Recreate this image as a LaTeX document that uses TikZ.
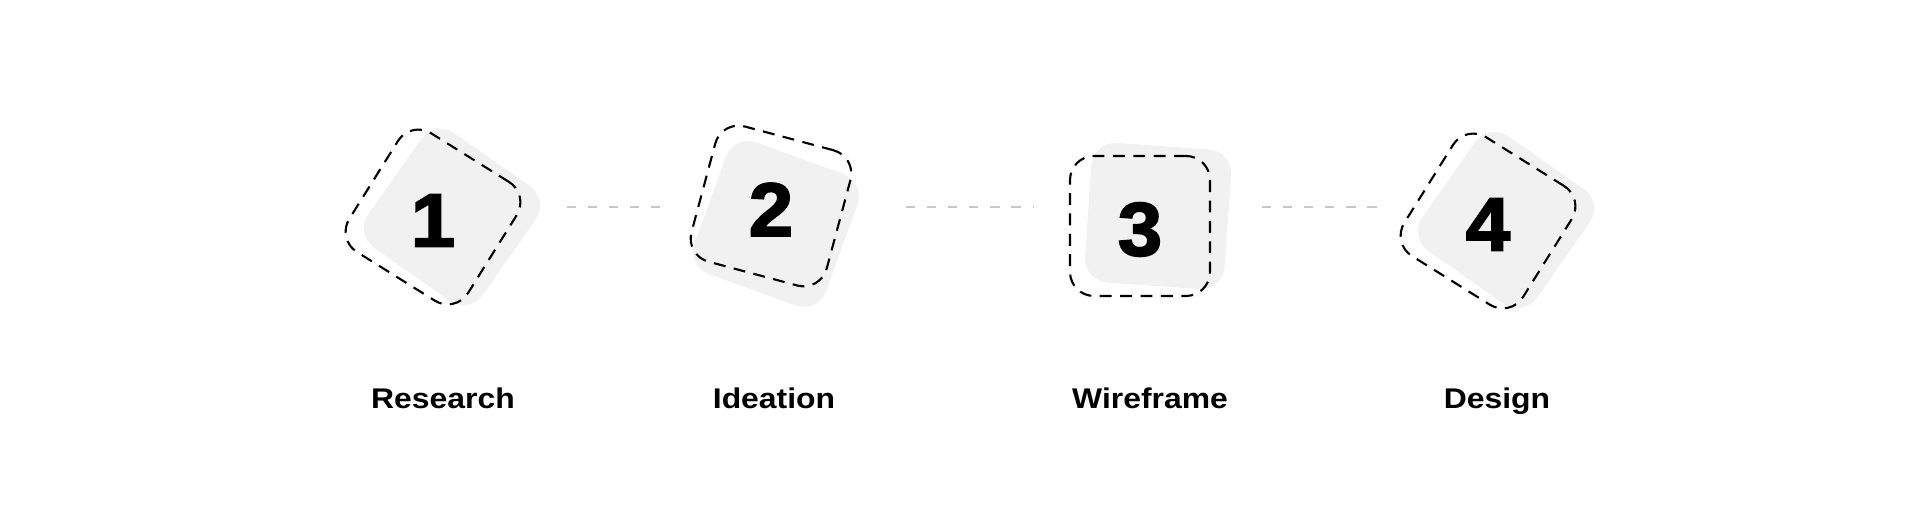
\documentclass[tikz,border=0pt]{standalone}
\usepackage{fontspec}
\setmainfont{Liberation Sans}
\newfontfamily\labelfont[FakeStretch=1.12]{Liberation Sans}
\newfontfamily\numfont[FakeBold=2.6,FakeStretch=1.05]{Liberation Sans}
\usepackage{tikz}
\usetikzlibrary{positioning}
\definecolor{tilegray}{RGB}{241,241,241}
\definecolor{linkgray}{RGB}{200,200,200}

\begin{document}
\begin{tikzpicture}[
			tile/.style={
				fill=tilegray,
				rounded corners=0.24cm,
				minimum size=1.4cm,
				inner sep=0pt
			},
			frame/.style={
				draw,
				line width=0.6pt,
				dash pattern=on 3.4pt off 2.4pt,
				rounded corners=0.24cm,
				minimum size=1.4cm,
				inner sep=0pt
			},
			num/.style={yshift=-0.35mm,font=\numfont\bfseries\fontsize{21.5}{21.5}\selectfont},
			stage/.style={anchor=base,font=\labelfont\bfseries\fontsize{8.1}{9}\selectfont},
			link/.style={draw=linkgray,line width=0.45pt,dash pattern=on 2.6pt off 3.4pt}
			]
			
			\useasboundingbox (0,0) rectangle (19.2,5.09);
			
			\node[tile,rotate=-35] (t1) at (4.52,2.92) {};
			\node[frame,rotate=-32] (f1) at (4.33,2.92) {};
			\node[num] (n1) at (f1) {1};
			
			\node[tile,rotate=-20] (t2) at (7.76,2.85) {};
			\node[frame,rotate=-15] (f2) at (7.71,3.03) {};
			\node[num] (n2) at (f2) {2};
			
			\node[tile,rotate=-4] (t3) at (11.58,2.93) {};
			\node[frame] (f3) at (11.40,2.83) {};
			\node[num] (n3) at (f3) {3};
			
			\node[tile,rotate=-35] (t4) at (15.06,2.89) {};
			\node[frame,rotate=-32] (f4) at (14.88,2.88) {};
			\node[num] (n4) at (f4) {4};
			
			\node[stage] (l1) at (4.43,1.00) {Research};
			\node[stage] (l2) at (7.74,1.00) {Ideation};
			\node[stage] (l3) at (11.50,1.00) {Wireframe};
			\node[stage] (l4) at (14.97,1.00) {Design};
			
			\coordinate (a1) at (5.67,3.02);
			\coordinate (b1) at (6.69,3.02);
			\coordinate (a2) at (9.06,3.02);
			\coordinate (b2) at (10.34,3.02);
			\coordinate (a3) at (12.62,3.02);
			\coordinate (b3) at (13.88,3.02);
			
			\draw[link] (a1)--(b1);
			\draw[link] (a2)--(b2);
			\draw[link] (a3)--(b3);
			
		\end{tikzpicture}
\end{document}
